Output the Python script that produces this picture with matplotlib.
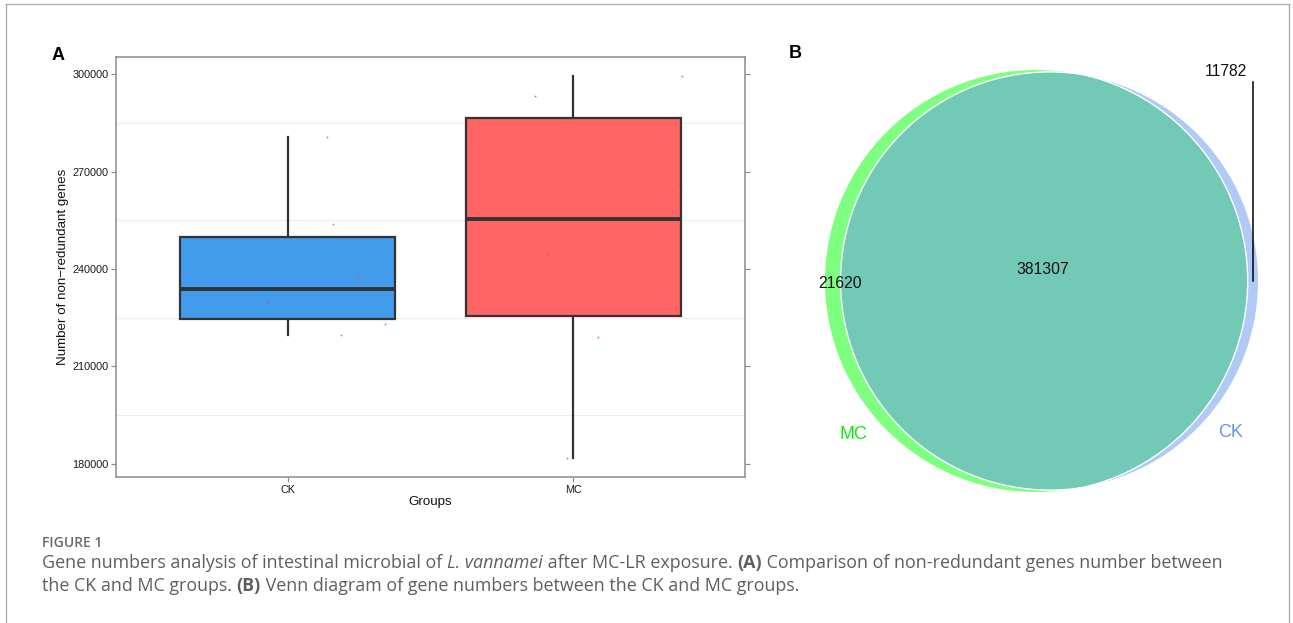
import numpy as np
import matplotlib
matplotlib.use('Agg')
from matplotlib import pyplot as plt
from matplotlib.patches import Circle
from matplotlib.lines import Line2D
from matplotlib.transforms import IdentityTransform

# ---- data ----
groups = ['CK', 'MC']
ck_genes = [219600, 223000, 229800, 237600, 254000, 280600]
mc_genes = [181900, 219100, 244700, 265900, 293300, 299500]
y_ticks = [180000, 210000, 240000, 270000, 300000]

venn_names = ['MC', 'CK']
only_mc = 21620
only_ck = 11782
shared = 381307

W, H = 1293, 623
fig = plt.figure(figsize=(W / 100, H / 100), dpi=100)
plt.rcParams['font.family'] = ['Liberation Sans', 'DejaVu Sans']


def fbox(l, t, r, b):
    # pixel box -> figure fraction
    return [l / W, 1 - b / H, (r - l) / W, (b - t) / H]


def ftext(x, y, s, **kw):
    # text at pixel position (y from top)
    return fig.text(x / W, 1 - y / H, s, **kw)


# outer frame
for xs, ys in [((6, 6), (4, H + 5)), ((6, 1289), (4, 4)), ((1289, 1289), (4, H + 5))]:
    fig.add_artist(Line2D([x / W for x in xs], [1 - y / H for y in ys],
                          transform=fig.transFigure, color='#b0b0b0', lw=1))

# ---- panel A: boxplot ----
ax = fig.add_axes(fbox(116, 57, 745, 477))
edge = '#333333'
bp = ax.boxplot([ck_genes, mc_genes], positions=[1, 2], widths=0.75,
                patch_artist=True, whis=1.5, showfliers=False, showcaps=False,
                medianprops=dict(color=edge, lw=2.8),
                boxprops=dict(edgecolor=edge, lw=1.6),
                whiskerprops=dict(color=edge, lw=1.6), zorder=3)
for patch, c in zip(bp['boxes'], ['#429BEB', '#FE6666']):
    patch.set_facecolor(c)

# jittered sample points (tiny red dots)
jitter = [[0.186, 0.34, -0.071, 0.247, 0.16, 0.138],
          [-0.023, 0.085, -0.093, 0.37, -0.135, 0.38]]
for i, vals in enumerate([ck_genes, mc_genes]):
    ax.plot(np.array(jitter[i]) + i + 1, vals, ls='none', marker='o',
            ms=1.3, mew=0, color='#ff4040', alpha=0.8, zorder=4)

ax.set_xlim(0.4, 2.6)
ax.set_ylim(175900, 305330)
ax.set_yticks(y_ticks)
ax.set_yticklabels([str(v) for v in y_ticks])
ax.set_xticks([1, 2])
ax.set_xticklabels(groups)
for v in [195000, 225000, 255000, 285000]:
    ax.axhline(v, color='#ededed', lw=0.8, zorder=0)
for sp in ax.spines.values():
    sp.set_color('#8c8c8c')
    sp.set_linewidth(1.1)
ax.tick_params(axis='both', length=3.5, width=0.9, color='#8c8c8c',
               labelsize=7.8, labelcolor='#1a1a1a', pad=2)
ax.tick_params(axis='y', right=True)

ftext(63, 267, 'Number of non\u2212redundant genes', rotation=90,
      ha='center', va='center', fontsize=9.6, color='#111111')
ftext(430, 502, 'Groups', ha='center', va='center', fontsize=9.6, color='#111111')
ftext(58, 55, 'A', ha='center', va='center', fontsize=13, fontweight='bold')
ftext(795, 53, 'B', ha='center', va='center', fontsize=13, fontweight='bold')

# ---- panel B: area-proportional Venn ----
r_mc = np.sqrt((only_mc + shared) / np.pi)
r_ck = np.sqrt((only_ck + shared) / np.pi)


def lens(r1, r2, d):
    if d >= r1 + r2:
        return 0.0
    if d <= abs(r1 - r2):
        return np.pi * min(r1, r2) ** 2
    a1 = r1 ** 2 * np.arccos((d * d + r1 * r1 - r2 * r2) / (2 * d * r1))
    a2 = r2 ** 2 * np.arccos((d * d + r2 * r2 - r1 * r1) / (2 * d * r2))
    a3 = 0.5 * np.sqrt((-d + r1 + r2) * (d + r1 - r2) * (d - r1 + r2) * (d + r1 + r2))
    return a1 + a2 - a3


lo, hi = abs(r_mc - r_ck), r_mc + r_ck
for _ in range(80):
    mid = 0.5 * (lo + hi)
    if lens(r_mc, r_ck, mid) > shared:
        lo = mid
    else:
        hi = mid
dist = 0.5 * (lo + hi)

vx0, vy0, vx1, vy1 = 780, 30, 1290, 510
s = 211.7 / r_mc            # pixels per unit
cx, cy = 1036, 281          # pixel centre of the MC circle
vax = fig.add_axes(fbox(vx0, vy0, vx1, vy1))
vax.set_xlim((vx0 - cx) / s, (vx1 - cx) / s)
vax.set_ylim((cy - vy1) / s, (cy - vy0) / s)
vax.axis('off')

c_mc = (0.0, 0.0)
c_ck = (dist, 0.0)
vax.add_patch(Circle(c_mc, r_mc, facecolor='#00ff00', alpha=0.5, lw=0))
vax.add_patch(Circle(c_ck, r_ck, facecolor='#6495ED', alpha=0.5, lw=0))
vax.add_patch(Circle(c_mc, r_mc, facecolor='none', edgecolor='white', lw=1))
vax.add_patch(Circle(c_ck, r_ck, facecolor='none', edgecolor='white', lw=1))

num_kw = dict(ha='center', va='center', fontsize=11.3, color='#111111')
vax.text(dist / 2, 11 / s, f'{shared}', **num_kw)
vax.text(dist - r_ck, -2.5 / s, f'{only_mc}', **num_kw)
xline = 0.5 * ((r_mc) + (dist + r_ck))
vax.plot([xline, xline], [0, 199 / s], color='black', lw=1.1)
vax.text(xline - 27 / s, 209 / s, f'{only_ck}', **num_kw)

ang = np.deg2rad(130)
dcat = 27 / s
vax.text(c_mc[0] - (r_mc + dcat) * np.sin(ang), (r_mc + dcat) * np.cos(ang),
         venn_names[0], ha='center', va='center', fontsize=13, color='#11e811')
vax.text(c_ck[0] + (r_ck + dcat) * np.sin(ang), (r_ck + dcat) * np.cos(ang),
         venn_names[1], ha='center', va='center', fontsize=13, color='#6495ED')

# ---- caption ----
cap_font = ['Open Sans', 'DejaVu Sans']
cap_col = '#5f5f5f'
renderer = fig.canvas.get_renderer()


def rich_line(x, y, pieces, size):
    # draw pieces of differently styled text one after another, y = baseline from top
    for txt, style, weight in pieces:
        t = fig.text(x, H - y, txt, transform=IdentityTransform(), fontsize=size,
                     family=cap_font, style=style, weight=weight, color=cap_col,
                     va='baseline', ha='left')
        x += t.get_window_extent(renderer).width
    return x


ftext(42, 547, 'FIGURE 1', family=cap_font, weight='semibold', fontsize=10,
      color='#6a6a6a', va='baseline')
rich_line(42, 568, [
    ('Gene numbers analysis of intestinal microbial of ', 'normal', 'normal'),
    ('L. vannamei', 'italic', 'normal'),
    (' after MC-LR exposure. ', 'normal', 'normal'),
    ('(A)', 'normal', 'bold'),
    (' Comparison of non-redundant genes number between', 'normal', 'normal')], 12.9)
rich_line(42, 591, [
    ('the CK and MC groups. ', 'normal', 'normal'),
    ('(B)', 'normal', 'bold'),
    (' Venn diagram of gene numbers between the CK and MC groups.', 'normal', 'normal')], 12.9)

fig.savefig('out.png', dpi=100)
